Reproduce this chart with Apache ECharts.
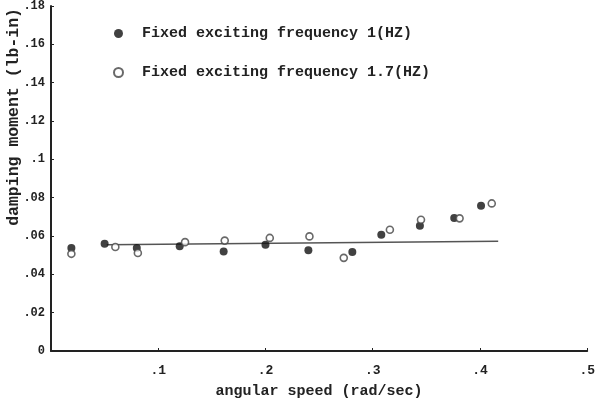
<!DOCTYPE html>
<html><head><meta charset="utf-8">
<script src="https://cdn.jsdelivr.net/npm/echarts@6/dist/echarts.min.js"></script>
<style>html,body{margin:0;padding:0;background:#fff}#c{width:598px;height:404px}</style>
</head><body><div id="c"></div>
<script>
// Fixed exciting frequency 1 Hz (filled)
const speed1 = [0.019, 0.050, 0.080, 0.120, 0.161, 0.200, 0.240, 0.281, 0.308, 0.344, 0.376, 0.401];
const moment1 = [0.0538, 0.0559, 0.0537, 0.0547, 0.0519, 0.0554, 0.0526, 0.0516, 0.0607, 0.0654, 0.0694, 0.0758];
// Fixed exciting frequency 1.7 Hz (open)
const speed2 = [0.019, 0.060, 0.081, 0.125, 0.162, 0.204, 0.241, 0.273, 0.316, 0.345, 0.381, 0.411];
const moment2 = [0.0507, 0.0543, 0.0511, 0.0568, 0.0576, 0.0590, 0.0598, 0.0486, 0.0633, 0.0685, 0.0692, 0.0770];
// fitted line
const fitSpeed = [0.052, 0.417];
const fitMoment = [0.0554, 0.0573];
const seriesNames = ['Fixed exciting frequency 1(HZ)', 'Fixed exciting frequency 1.7(HZ)'];
const xTickLabels = ['', '.1', '.2', '.3', '.4', '.5'];
const yTickLabels = ['0', '.02', '.04', '.06', '.08', '.1', '.12', '.14', '.16', '.18'];

const font = "'Liberation Mono', 'DejaVu Sans Mono', monospace";
const ink = '#222';
const zip = (a, b) => a.map((v, i) => [v, b[i]]);

const chart = echarts.init(document.getElementById('c'), null, {renderer: 'canvas'});
chart.setOption({
  animation: false,
  backgroundColor: '#fff',
  grid: {left: 51, right: 7, top: 6, bottom: 51, containLabel: false},
  legend: {
    orient: 'vertical', left: 108, top: 21, itemGap: 24,
    itemWidth: 9, itemHeight: 9,
    data: seriesNames,
    textStyle: {fontFamily: font, fontSize: 15, fontWeight: 'bold', color: ink, padding: [0, 0, 0, 14]}
  },
  xAxis: {
    type: 'value', min: 0, max: 0.5, interval: 0.1,
    name: 'angular speed (rad/sec)', nameLocation: 'middle', nameGap: 33,
    nameTextStyle: {fontFamily: font, fontSize: 15, fontWeight: 'bold', color: ink},
    axisLine: {show: true, lineStyle: {color: ink, width: 2}},
    axisTick: {show: true, inside: true, length: 3, lineStyle: {color: ink}},
    splitLine: {show: false},
    axisLabel: {fontFamily: font, fontSize: 13, fontWeight: 'bold', color: ink, margin: 13,
      formatter: (v) => xTickLabels[Math.round(v * 10)]}
  },
  yAxis: {
    type: 'value', min: 0, max: 0.18, interval: 0.02,
    axisLine: {show: true, lineStyle: {color: ink, width: 2}},
    axisTick: {show: true, inside: true, length: 3, lineStyle: {color: ink}},
    splitLine: {show: false},
    axisLabel: {fontFamily: font, fontSize: 12, fontWeight: 'bold', color: ink, margin: 6,
      formatter: (v) => yTickLabels[Math.round(v * 50)]}
  },
  graphic: [{
    type: 'text', left: 5, top: 8, rotation: Math.PI / 2,
    style: {text: 'damping moment (lb-in)', font: "bold 16.5px 'Liberation Mono', monospace", fill: ink}
  }],
  series: [
    {name: seriesNames[0], type: 'scatter', symbol: 'circle', symbolSize: 8,
     itemStyle: {color: '#111'}, data: zip(speed1, moment1), z: 3},
    {name: seriesNames[1], type: 'scatter', symbol: 'circle', symbolSize: 7,
     itemStyle: {color: '#fff', borderColor: '#444', borderWidth: 1.6}, data: zip(speed2, moment2), z: 4},
    {type: 'line', data: zip(fitSpeed, fitMoment), symbol: 'none',
     lineStyle: {color: '#555', width: 1.5}, z: 2, silent: true}
  ]
});
</script></body></html>
